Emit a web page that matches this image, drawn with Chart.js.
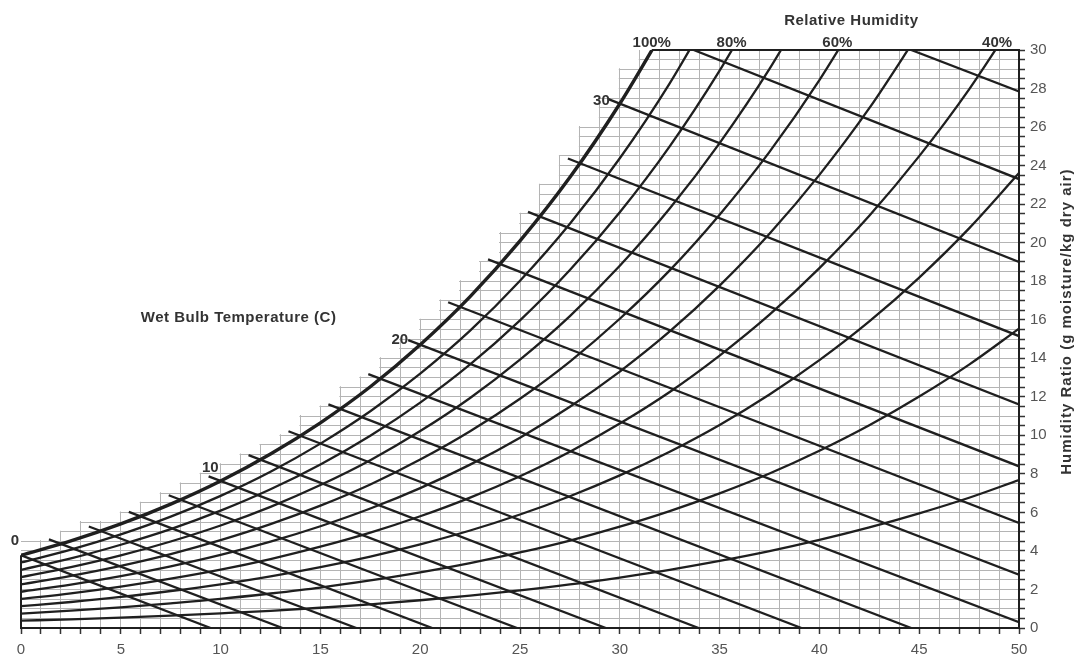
<!DOCTYPE html>
<html lang="en">
<head>
<meta charset="UTF-8">
<title>Psychrometric Chart</title>
<script src="https://cdn.jsdelivr.net/npm/chart.js"></script>
<style>
  html, body { margin: 0; padding: 0; background: #fff; }
</style>
</head>
<body>
<canvas id="psy" width="1074" height="660"></canvas>
<script>
// dry bulb temperature (C) for the relative humidity curves
const dryBulb = [0, 2.5, 5, 7.5, 10, 12.5, 15, 17.5, 20, 22.5, 25, 27.5, 30, 32.5, 35, 37.5, 40, 42.5, 45, 47.5, 50];

// humidity ratio (g/kg) along each relative humidity curve
const rh100 = [3.78, 4.52, 5.40, 6.43, 7.63, 9.03, 10.65, 12.52, 14.70, 17.20, 20.09, 23.39, 27.21, 31.57];
const rh90 = [3.40, 4.07, 4.86, 5.78, 6.86, 8.11, 9.57, 11.25, 13.20, 15.43, 18.02, 20.98, 24.38, 28.27, 32.73];
const rh80 = [3.02, 3.61, 4.32, 5.13, 6.09, 7.20, 8.49, 9.98, 11.70, 13.68, 15.97, 18.58, 21.58, 25.00, 28.93, 33.39];
const rh70 = [2.64, 3.16, 3.77, 4.49, 5.32, 6.29, 7.42, 8.71, 10.22, 11.94, 13.93, 16.19, 18.80, 21.77, 25.17, 29.02, 33.44];
const rh60 = [2.26, 2.71, 3.23, 3.84, 4.56, 5.39, 6.35, 7.45, 8.74, 10.21, 11.90, 13.83, 16.05, 18.56, 21.45, 24.71, 28.44, 32.66];
const rh50 = [1.88, 2.25, 2.69, 3.20, 3.79, 4.48, 5.28, 6.20, 7.26, 8.48, 9.88, 11.48, 13.31, 15.39, 17.77, 20.46, 23.52, 26.98, 30.91];
const rh40 = [1.51, 1.80, 2.15, 2.56, 3.03, 3.58, 4.22, 4.95, 5.80, 6.77, 7.88, 9.15, 10.61, 12.25, 14.14, 16.26, 18.68, 21.40, 24.49, 27.96, 31.89];
const rh30 = [1.13, 1.35, 1.61, 1.92, 2.27, 2.68, 3.16, 3.71, 4.34, 5.06, 5.89, 6.84, 7.92, 9.15, 10.54, 12.12, 13.90, 15.91, 18.19, 20.74, 23.61];
const rh20 = [0.75, 0.90, 1.07, 1.28, 1.51, 1.79, 2.10, 2.47, 2.89, 3.37, 3.92, 4.54, 5.26, 6.07, 6.99, 8.02, 9.20, 10.52, 12.01, 13.67, 15.54];
const rh10 = [0.38, 0.45, 0.54, 0.64, 0.76, 0.89, 1.05, 1.23, 1.44, 1.68, 1.95, 2.26, 2.62, 3.02, 3.48, 3.99, 4.57, 5.22, 5.95, 6.76, 7.68];

// where the labelled RH curves meet the top of the chart
const rhTopCross = [31.6, 35.6, 40.9, 48.9];
const rhTopLabels = ['100%', '80%', '60%', '40%'];

// highest grid row drawn in each 1 C column (grid stops in steps along saturation)
const gridColT = [0, 1, 2, 3, 4, 5, 6, 7, 8, 9, 10, 11, 12, 13, 14, 15, 16, 17, 18, 19, 20, 21, 22, 23, 24, 25, 26, 27, 28, 29, 30, 31, 32];
const gridColTop = [4.5, 4.5, 5.0, 5.5, 5.5, 6.0, 6.5, 7.0, 7.5, 8.0, 8.5, 9.0, 9.5, 10.0, 11.0, 11.5, 12.5, 13.0, 14.0, 15.0, 16.0, 17.0, 18.0, 19.0, 20.5, 21.5, 23.0, 24.5, 26.0, 27.5, 29.0, 30, 30];

// wet bulb lines: tick end beyond saturation -> end on the frame
const wbTemps  = [0, 2, 4, 6, 8, 10, 12, 14, 16, 18, 20, 22, 24, 26, 28, 30, 32, 34];
const wbStartT = [-0.6, 1.4, 3.4, 5.4, 7.4, 9.4, 11.4, 13.4, 15.4, 17.4, 19.4, 21.4, 23.4, 25.4, 27.4, 29.4, 33.7, 44.6];
const wbStartW = [4.01, 4.60, 5.27, 6.03, 6.89, 7.87, 8.97, 10.21, 11.61, 13.18, 14.94, 16.91, 19.13, 21.60, 24.37, 27.46, 30, 30];
const wbEndT   = [9.5, 13.1, 16.8, 20.6, 24.85, 29.3, 33.95, 39.1, 44.6, 50, 50, 50, 50, 50, 50, 50, 50, 50];
const wbEndW   = [0, 0, 0, 0, 0, 0, 0, 0, 0, 0.3, 2.77, 5.45, 8.39, 11.6, 15.15, 19.0, 23.3, 27.85];
// saturation humidity ratio at the labelled wet bulb temperatures
const wbLabelT = [0, 10, 20, 30];
const wbLabelW = [3.78, 7.63, 14.70, 27.21];

const FONT = 'Arial, "Liberation Sans", Helvetica, sans-serif';
const INK = '#1f1f1f';
const GRID = '#b4b4b4';

const rhSeries = [rh100, rh90, rh80, rh70, rh60, rh50, rh40, rh30, rh20, rh10];
const datasets = [];

rhSeries.forEach((arr, k) => {
  datasets.push({
    data: arr.map((w, i) => ({ x: dryBulb[i], y: w })),
    borderColor: INK,
    borderWidth: k === 0 ? 3.4 : 2.3,
    pointRadius: 0,
    cubicInterpolationMode: 'monotone',
    clip: 0,
    fill: false
  });
});

wbTemps.forEach((t, i) => {
  datasets.push({
    data: [{ x: wbStartT[i], y: wbStartW[i] }, { x: wbEndT[i], y: wbEndW[i] }],
    borderColor: INK,
    borderWidth: 2.3,
    pointRadius: 0,
    tension: 0,
    clip: 0,
    fill: false
  });
});

// white-out of the grid above the stepped saturation edge
const gridMask = {
  id: 'gridMask',
  beforeDatasetsDraw(chart) {
    const { ctx, chartArea, scales: { x, y } } = chart;
    ctx.save();
    ctx.beginPath();
    ctx.rect(chartArea.left - 2, chartArea.top - 2, chartArea.width + 2, chartArea.height + 2);
    ctx.clip();
    ctx.fillStyle = '#ffffff';
    ctx.beginPath();
    ctx.moveTo(x.getPixelForValue(0) - 2, chartArea.top - 2);
    for (let i = 0; i < gridColT.length - 1; i++) {
      const yy = y.getPixelForValue(gridColTop[i]) - 1;
      ctx.lineTo(x.getPixelForValue(gridColT[i]) - (i === 0 ? 2 : 1), yy);
      ctx.lineTo(x.getPixelForValue(gridColT[i + 1]) - 1, yy);
    }
    ctx.lineTo(x.getPixelForValue(gridColT[gridColT.length - 1]) - 1, chartArea.top - 2);
    ctx.closePath();
    ctx.fill();
    ctx.restore();
  }
};

// frame pieces and free text
const decor = {
  id: 'decor',
  afterDatasetsDraw(chart) {
    const { ctx, chartArea, scales: { x, y } } = chart;
    ctx.save();
    ctx.strokeStyle = INK;
    ctx.lineWidth = 2;
    ctx.beginPath();
    ctx.moveTo(x.getPixelForValue(0), y.getPixelForValue(0));
    ctx.lineTo(x.getPixelForValue(0), y.getPixelForValue(rh100[0]));
    ctx.moveTo(x.getPixelForValue(rhTopCross[0]), y.getPixelForValue(30));
    ctx.lineTo(x.getPixelForValue(50), y.getPixelForValue(30));
    ctx.stroke();

    ctx.fillStyle = '#333';
    ctx.font = 'bold 15px ' + FONT;
    ctx.textAlign = 'right';
    ctx.textBaseline = 'middle';
    const offs = [[-2, -14], [-2, -13], [-12, -5], [-10, -3]];
    wbLabelT.forEach((t, i) => {
      ctx.fillText(String(t), x.getPixelForValue(t) + offs[i][0], y.getPixelForValue(wbLabelW[i]) + offs[i][1]);
    });

    ctx.textAlign = 'center';
    ctx.letterSpacing = '0.5px';
    ctx.fillText('Wet Bulb Temperature (C)', x.getPixelForValue(10.9), y.getPixelForValue(16.1));
    ctx.fillText('Relative Humidity', x.getPixelForValue(41.6), chartArea.top - 29);

    ctx.translate(chartArea.right + 48, y.getPixelForValue(15.9));
    ctx.rotate(-Math.PI / 2);
    ctx.letterSpacing = '1px';
    ctx.fillText('Humidity Ratio (g moisture/kg dry air)', 0, 0);
    ctx.restore();
  }
};

new Chart(document.getElementById('psy'), {
  type: 'line',
  data: { datasets },
  plugins: [gridMask, decor],
  options: {
    responsive: false,
    animation: false,
    devicePixelRatio: 1,
    layout: { padding: { left: 21, right: 0, top: 0, bottom: 0 } },
    plugins: {
      legend: { display: false },
      tooltip: { enabled: false }
    },
    scales: {
      x: {
        type: 'linear',
        position: 'bottom',
        min: 0,
        max: 50,
        ticks: {
          stepSize: 1,
          maxTicksLimit: 100,
          autoSkip: false,
          maxRotation: 0,
          padding: 8,
          color: '#555',
          font: { family: FONT, size: 15, lineHeight: 1 },
          callback: v => (v % 5 === 0 ? v : '')
        },
        grid: {
          color: c => (c.tick && c.tick.value === 0 ? 'transparent' : GRID),
          tickColor: '#333',
          tickLength: 6,
          tickWidth: 1.5
        },
        border: { color: INK, width: 2 },
        afterFit: s => { s.height = 32; }
      },
      x2: {
        type: 'linear',
        position: 'top',
        min: 0,
        max: 50,
        afterBuildTicks: s => { s.ticks = rhTopCross.map(v => ({ value: v })); },
        ticks: {
          autoSkip: false,
          maxRotation: 0,
          padding: 0,
          color: '#333',
          font: { family: FONT, size: 15, weight: 'bold', lineHeight: 1 },
          callback: (v, i) => rhTopLabels[i]
        },
        grid: { display: false, drawTicks: false },
        border: { display: false },
        afterFit: s => { s.height = 50; }
      },
      y: {
        type: 'linear',
        position: 'right',
        min: 0,
        max: 30,
        ticks: {
          stepSize: 0.5,
          maxTicksLimit: 100,
          autoSkip: false,
          padding: 5,
          color: '#555',
          font: { family: FONT, size: 15 },
          callback: v => (v % 2 === 0 ? v : '')
        },
        grid: {
          color: c => (c.tick && c.tick.value === 30 ? 'transparent' : GRID),
          tickColor: '#333',
          tickLength: 6,
          tickWidth: 1.5
        },
        border: { color: INK, width: 2 },
        afterFit: s => { s.width = 55; }
      }
    }
  }
});
</script>
</body>
</html>
